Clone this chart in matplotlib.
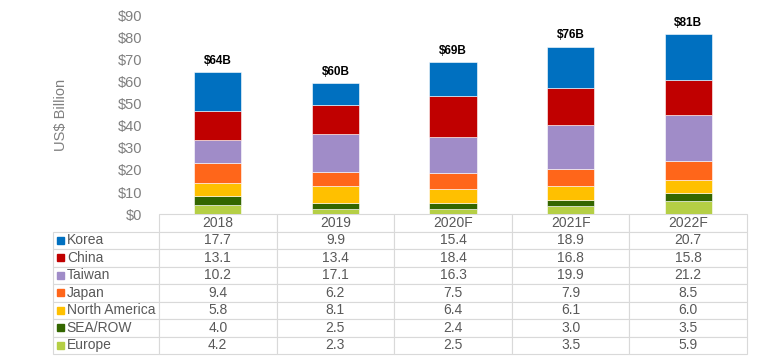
import matplotlib.pyplot as plt
from matplotlib.patches import Rectangle
from matplotlib.table import Table
import numpy as np

plt.rcParams['font.family'] = ['Liberation Sans', 'DejaVu Sans']

# data (US$ billion)
years = ['2018', '2019', '2020F', '2021F', '2022F']
regions = ['Korea', 'China', 'Taiwan', 'Japan', 'North America', 'SEA/ROW', 'Europe']
korea = [17.7, 9.9, 15.4, 18.9, 20.7]
china = [13.1, 13.4, 18.4, 16.8, 15.8]
taiwan = [10.2, 17.1, 16.3, 19.9, 21.2]
japan = [9.4, 6.2, 7.5, 7.9, 8.5]
north_america = [5.8, 8.1, 6.4, 6.1, 6.0]
sea_row = [4.0, 2.5, 2.4, 3.0, 3.5]
europe = [4.2, 2.3, 2.5, 3.5, 5.9]
total_labels = ['$64B', '$60B', '$69B', '$76B', '$81B']

colors = ['#0070C0', '#C00000', '#A08CC8', '#FF661A', '#FFC000', '#336600', '#B5CF45']
series = [korea, china, taiwan, japan, north_america, sea_row, europe]

fig = plt.figure(figsize=(7.73, 3.62), dpi=100)
ax = fig.add_axes([159 / 773, 1 - 214 / 362, 588 / 773, 198 / 362])

x = np.arange(len(years))
# stack from the bottom: Europe first, Korea on top
bottom = np.zeros(len(years))
for vals, col in zip(series[::-1], colors[::-1]):
    ax.bar(x, vals, 0.4, bottom=bottom, color=col, edgecolor='white', linewidth=0.4)
    bottom += np.array(vals)

for xi, tot, lab in zip(x, bottom, total_labels):
    ax.annotate(lab, (xi, tot), xytext=(0, 4), textcoords='offset points',
                ha='center', va='bottom', fontsize=8.5, fontweight='bold', color='black')

ax.set_xlim(-0.5, len(years) - 0.5)
ax.set_ylim(0, 90)
ax.set_yticks(range(0, 91, 10))
ax.set_yticklabels(['$%d' % v for v in range(0, 91, 10)], fontsize=10.5, color='#7F7F7F')
ax.tick_params(axis='y', length=0, pad=12)
ax.set_xticks([])
for s in ax.spines.values():
    s.set_visible(False)
ax.set_ylabel('US$ Billion', fontsize=10.5, color='#7F7F7F')
ax.yaxis.set_label_coords(-0.155, 0.5)

# data table under the bars (bbox covers the data columns; label column sits left of it)
lab_w = 106 / 588
col_w = 1 / len(years)
row_h = (140 / 198) / 8
tbl = Table(ax, bbox=[0, -140 / 198, 1, 140 / 198])
for c, yr in enumerate(years):
    tbl.add_cell(0, c, col_w, row_h, text=yr, loc='center')
for r, (name, vals) in enumerate(zip(regions, series), start=1):
    cell = tbl.add_cell(r, -1, lab_w, row_h, text=name, loc='left')
    cell.PAD = 0.13
    for c, v in enumerate(vals):
        tbl.add_cell(r, c, col_w, row_h, text='%.1f' % v, loc='center')
tbl.auto_set_font_size(False)
tbl.set_fontsize(10)
for cell in tbl.get_celld().values():
    cell.set_edgecolor('#D9D9D9')
    cell.set_linewidth(0.8)
    cell.get_text().set_color('#595959')
ax.add_table(tbl)

# legend keys in the row-label column
for i, col in enumerate(colors):
    yc = -row_h * (i + 1.5)
    ax.add_patch(Rectangle((-lab_w + 3.5 / 588, yc - 3.5 / 198), 7 / 588, 7 / 198,
                           transform=ax.transAxes, color=col, clip_on=False, zorder=5))

fig.savefig('out.png', dpi=100)
